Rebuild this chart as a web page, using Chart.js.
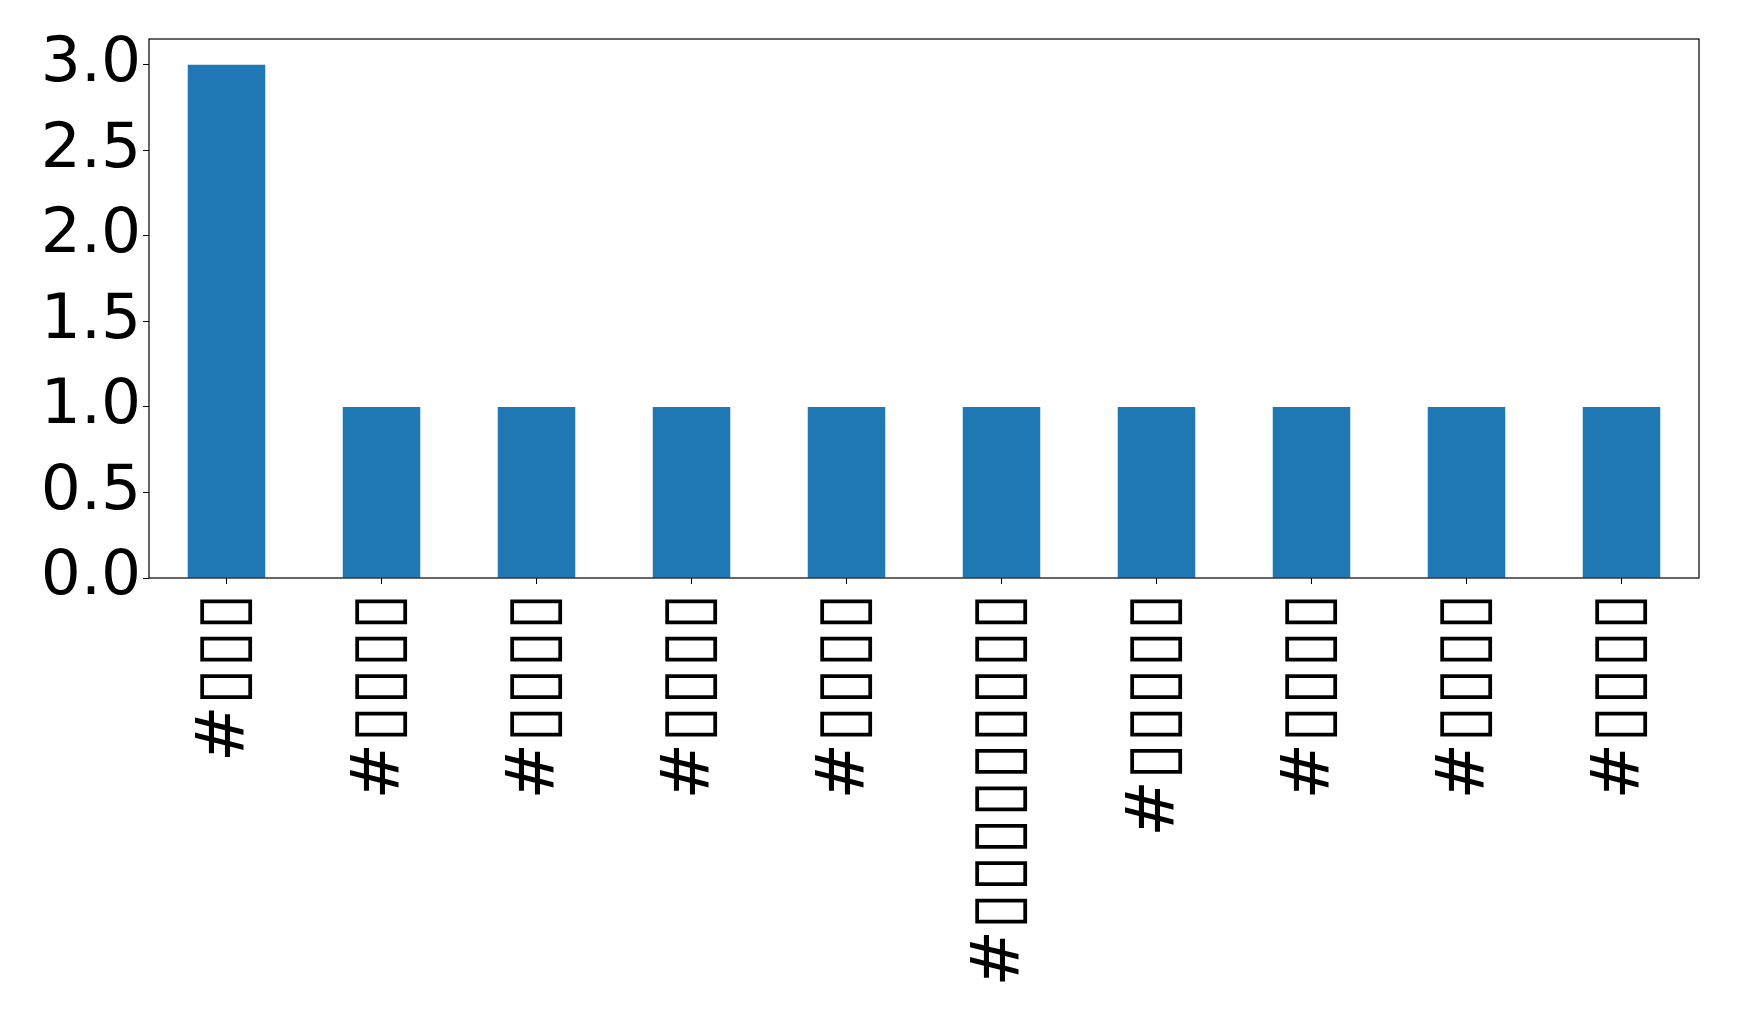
<!DOCTYPE html>
<html>
<head>
<meta charset="utf-8">
<script src="https://cdn.jsdelivr.net/npm/chart.js@4/dist/chart.umd.min.js"></script>
<style>
  html, body { margin: 0; padding: 0; background: #fff; }
  #chart { display: block; }
</style>
</head>
<body>
<canvas id="chart" width="1739" height="1018"></canvas>
<script>
// labels in the source rendered as missing-glyph boxes, kept as box characters
const categories = [
  "#▯▯▯",
  "#▯▯▯▯",
  "#▯▯▯▯",
  "#▯▯▯▯",
  "#▯▯▯▯",
  "#▯▯▯▯▯▯▯▯▯",
  "#▯▯▯▯▯",
  "#▯▯▯▯",
  "#▯▯▯▯",
  "#▯▯▯▯"
];
const counts = [3, 1, 1, 1, 1, 1, 1, 1, 1, 1];
const yTicks = [0, 0.5, 1.0, 1.5, 2.0, 2.5, 3.0];
const yMax = 3.15;

const FONT = "'DejaVu Sans', sans-serif";

// matplotlib style frame round the plot area
const frame = {
  id: "frame",
  afterDraw(chart) {
    const a = chart.chartArea;
    const ctx = chart.ctx;
    ctx.save();
    ctx.strokeStyle = "#000";
    ctx.lineWidth = 1.2;
    ctx.strokeRect(a.left, a.top, a.right - a.left, a.bottom - a.top);
    ctx.restore();
  }
};

new Chart(document.getElementById("chart"), {
  type: "bar",
  data: {
    labels: categories,
    datasets: [{
      data: counts,
      backgroundColor: "#1f77b4",
      barPercentage: 0.5,
      categoryPercentage: 1.0
    }]
  },
  options: {
    responsive: false,
    animation: false,
    devicePixelRatio: 1,
    layout: { padding: { left: 0, right: 40, top: 39, bottom: 0 } },
    plugins: { legend: { display: false }, tooltip: { enabled: false } },
    scales: {
      x: {
        grid: { offset: false, drawOnChartArea: false, tickLength: 6, color: "#000" },
        border: { display: false },
        ticks: {
          minRotation: 90,
          maxRotation: 90,
          autoSkip: false,
          padding: 9,
          color: "#000",
          font: { family: FONT, size: 68 }
        },
        afterFit(scale) {
          scale.height = 440;
          scale.paddingLeft = 0;
          scale.paddingRight = 0;
        }
      },
      y: {
        min: 0,
        max: yMax,
        grid: { drawOnChartArea: false, tickLength: 6, color: "#000" },
        border: { display: false },
        ticks: {
          padding: 2,
          color: "#000",
          font: { family: FONT, size: 63 },
          callback: (v) => Number(v).toFixed(1)
        },
        afterBuildTicks(scale) { scale.ticks = yTicks.map(v => ({ value: v })); },
        afterFit(scale) {
          scale.width = 149;
          scale.paddingTop = 0;
          scale.paddingBottom = 0;
        }
      }
    }
  },
  plugins: [frame]
});
</script>
</body>
</html>
